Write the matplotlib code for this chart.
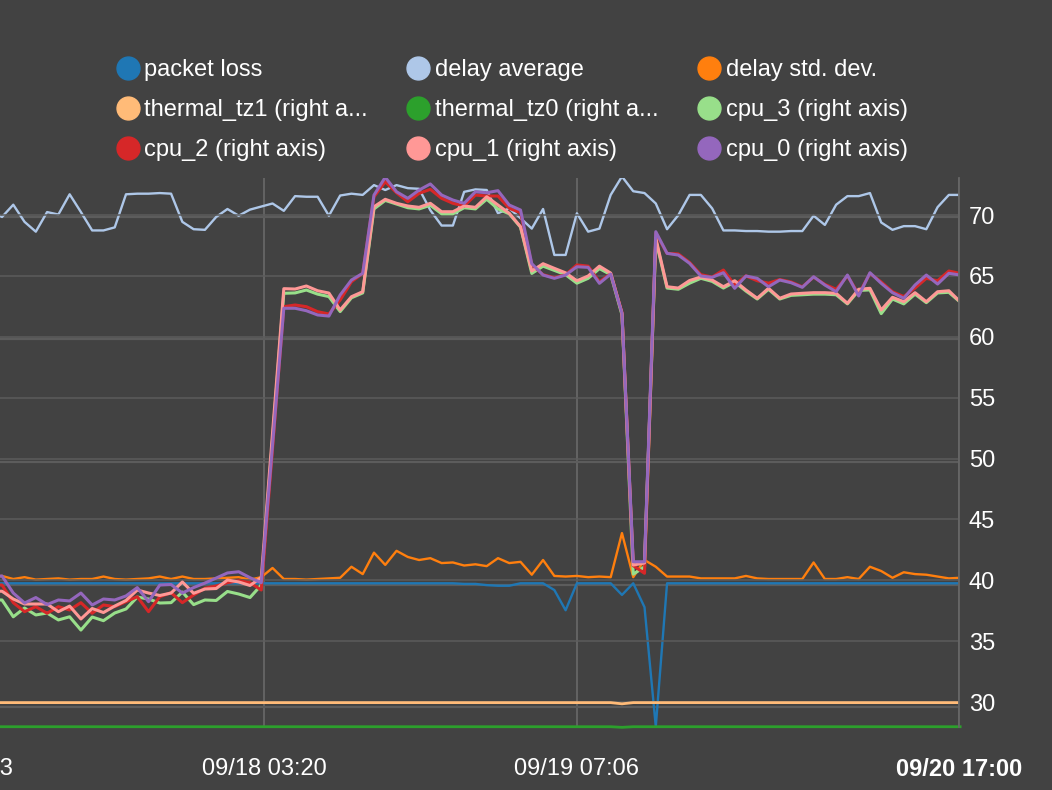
import matplotlib
matplotlib.use('Agg')
import matplotlib.pyplot as plt
from matplotlib.lines import Line2D
import pandas as pd

plt.rcParams['font.family'] = ['Liberation Sans', 'DejaVu Sans']

# hourly samples
times = pd.date_range('2019-09-17 03:06', periods=87, freq='h')

# left axis series
packet_loss = [10.1, 10.1, 10.1, 10.1, 10.1, 10.1, 10.1, 10.1, 10.1, 10.1,
               10.1, 10.1, 10.1, 10.1, 10.1, 10.1, 10.1, 10.1, 10.1, 10.1,
               10.1, 10.1, 10.1, 10.1, 10.1, 10.1, 10.1, 10.1, 10.1, 10.1,
               10.1, 10.1, 10.1, 10.1, 10.1, 10.1, 10.1, 10.1, 10.1, 10.1,
               10.1, 10.1, 10.05, 10.05, 9.95, 9.9, 9.9, 10.1, 10.1, 10.1,
               9.55, 7.9, 10.1, 10.1, 10.1, 10.1, 9.15, 10.1, 8.15, -1.6,
               10.1, 10.1, 10.1, 10.1, 10.1, 10.1, 10.1, 10.1, 10.1, 10.1,
               10.1, 10.1, 10.1, 10.1, 10.1, 10.1, 10.1, 10.1, 10.1, 10.1,
               10.1, 10.1, 10.1, 10.1, 10.1, 10.1, 10.1]
delay_avg = [40.5, 40.0, 41.0, 39.6, 38.8, 40.4, 40.2, 41.85, 40.4, 38.9,
             38.9, 39.15, 41.85, 41.9, 41.9, 41.95, 41.9, 39.6, 39.0, 38.95,
             40.0, 40.65, 40.1, 40.6, 40.85, 41.1, 40.5, 41.7, 41.65, 41.65,
             40.1, 41.75, 41.9, 41.8, 42.6, 42.2, 42.6, 42.35, 42.3, 40.55,
             39.3, 39.3, 42.05, 42.25, 42.2, 40.3, 40.7, 39.9, 39.05, 40.65,
             36.9, 36.9, 40.3, 38.8, 39.05, 41.8, 43.3, 42.1, 41.95, 41.1,
             39.0, 40.15, 41.8, 41.8, 40.7, 38.9, 38.9, 38.85, 38.85, 38.8,
             38.8, 38.85, 38.85, 40.1, 39.35, 41.0, 41.7, 41.7, 41.95, 39.55,
             38.95, 39.25, 39.25, 39.0, 40.8, 41.8, 41.8]
delay_std = [10.6, 10.7, 10.45, 10.6, 10.4, 10.45, 10.5, 10.4, 10.45, 10.45,
             10.65, 10.45, 10.4, 10.45, 10.5, 10.65, 10.45, 10.65, 10.45, 10.45,
             10.5, 10.55, 10.6, 10.4, 10.6, 11.35, 10.45, 10.45, 10.4, 10.45,
             10.5, 10.55, 11.45, 10.85, 12.6, 11.6, 12.75, 12.25, 12.0, 12.15,
             11.75, 11.8, 11.55, 11.65, 11.5, 12.15, 11.75, 11.85, 10.8, 12.0,
             10.7, 10.65, 10.7, 10.6, 10.65, 10.6, 14.2, 10.6, 12.0, 11.45,
             10.65, 10.65, 10.65, 10.5, 10.5, 10.5, 10.5, 10.7, 10.5, 10.45,
             10.45, 10.45, 10.45, 11.8, 10.45, 10.45, 10.6, 10.45, 11.45, 11.1,
             10.55, 11.0, 10.85, 10.8, 10.65, 10.5, 10.55]

# right axis series
thermal_tz1 = [29.95] * 56 + [29.85] + [29.95] * 30
thermal_tz0 = [27.97] * 56 + [27.92] + [27.97] * 30
cpu_3 = [38.4, 38.38, 37.0, 37.72, 37.15, 37.31, 36.74, 37.0, 35.91, 36.98,
         36.68, 37.31, 37.64, 38.62, 38.46, 38.13, 38.16, 39.03, 38.0, 38.38,
         38.34, 39.08, 38.87, 38.58, 39.61, 51.6, 63.57, 63.6, 63.84, 63.5,
         63.3, 62.07, 63.2, 63.6, 70.5, 71.2, 70.9, 70.6, 70.5, 70.8,
         70.1, 70.1, 70.6, 70.5, 71.3, 70.5, 70.1, 69.0, 65.2, 65.8,
         65.45, 65.1, 64.4, 64.8, 65.6, 65.1, 61.8, 40.5, 41.1, 67.95,
         64.0, 63.9, 64.4, 64.8, 64.55, 64.0, 64.5, 63.75, 63.1, 63.9,
         63.1, 63.4, 63.45, 63.5, 63.5, 63.45, 62.7, 63.8, 63.85, 61.9,
         63.1, 62.7, 63.5, 62.8, 63.6, 63.65, 62.85]
cpu_2 = [39.6, 39.61, 38.16, 37.42, 37.83, 37.29, 37.83, 37.56, 38.16, 37.29,
         37.97, 37.83, 38.24, 38.65, 37.42, 38.65, 38.98, 38.16, 38.79, 39.34,
         39.53, 39.8, 39.96, 39.8, 39.2, 50.8, 62.47, 62.61, 62.47, 62.06,
         61.87, 63.02, 64.52, 65.21, 71.5, 72.73, 71.83, 71.09, 71.78, 72.11,
         71.37, 70.96, 70.74, 71.64, 71.56, 71.56, 70.55, 70.19, 65.9, 65.1,
         64.85, 65.1, 65.9, 65.8, 64.5, 65.2, 62.0, 41.2, 40.57, 68.52,
         66.85, 66.8, 66.1, 65.1, 64.9, 65.48, 64.25, 65.0, 64.6, 64.4,
         64.7, 64.5, 64.1, 64.9, 64.3, 63.9, 65.0, 63.5, 65.2, 64.5,
         63.7, 63.3, 64.0, 64.8, 64.6, 65.4, 65.2]
cpu_1 = [39.1, 39.1, 38.46, 38.05, 38.05, 38.05, 37.42, 37.88, 36.82, 37.68,
         37.35, 37.88, 38.34, 39.2, 38.95, 38.75, 38.95, 39.86, 38.93, 39.28,
         39.32, 40.02, 39.86, 39.57, 40.23, 52.1, 63.95, 63.92, 64.17, 63.78,
         63.59, 62.2, 63.29, 63.7, 70.68, 71.29, 70.96, 70.74, 70.63, 70.96,
         70.27, 70.27, 70.74, 70.63, 71.5, 70.82, 70.14, 69.04, 65.4, 66.0,
         65.62, 65.25, 64.6, 64.99, 65.8, 65.23, 61.93, 41.25, 41.42, 68.11,
         64.11, 64.0, 64.62, 64.91, 64.66, 64.11, 64.6, 63.84, 63.16, 63.98,
         63.16, 63.51, 63.57, 63.62, 63.62, 63.57, 62.75, 63.9, 63.98, 62.2,
         63.24, 62.88, 63.62, 62.88, 63.7, 63.78, 62.88]
cpu_0 = [40.3, 40.35, 38.95, 38.13, 38.58, 38.0, 38.38, 38.3, 38.95, 37.97,
         38.46, 38.38, 38.71, 39.4, 38.24, 39.61, 39.65, 38.95, 39.4, 39.77,
         40.18, 40.6, 40.7, 40.21, 39.8, 51.1, 62.34, 62.34, 62.14, 61.79,
         61.7, 63.43, 64.66, 65.21, 71.64, 73.1, 71.91, 71.37, 72.05, 72.55,
         71.64, 71.23, 70.96, 71.91, 71.83, 72.0, 70.82, 70.41, 66.0, 65.07,
         64.8, 65.07, 65.75, 65.7, 64.39, 65.15, 61.93, 41.52, 41.52, 68.63,
         66.85, 66.71, 66.03, 64.99, 64.88, 65.26, 63.98, 64.99, 64.8, 64.11,
         64.66, 64.44, 64.06, 64.93, 64.25, 63.7, 65.07, 63.35, 65.26, 64.39,
         63.62, 63.16, 64.25, 65.07, 64.33, 65.21, 65.07]

left_names = ['packet loss', 'delay average', 'delay std. dev.']
right_names = ['thermal_tz1 (right a...', 'thermal_tz0 (right a...',
               'cpu_3 (right axis)', 'cpu_2 (right axis)',
               'cpu_1 (right axis)', 'cpu_0 (right axis)']
x_ticks = ['2019-09-16 23:34', '2019-09-18 03:20', '2019-09-19 07:06', '2019-09-20 17:00']
x_labels = ['09/16 23:33', '09/18 03:20', '09/19 07:06', '09/20 17:00']

left_colors = ['#1f77b4', '#aec7e8', '#ff7f0e']
right_colors = ['#ffbb78', '#2ca02c', '#98df8a', '#d62728', '#ff9896', '#9467bd']

BG = '#424242'
GRID = '#5c5c5c'
W, H = 1052, 790

fig = plt.figure(figsize=(W / 100, H / 100), dpi=100, facecolor=BG)
# plot area runs off the left edge of the picture (cropped chart)
l_px, r_px, t_px, b_px = -120, 959, 178, 727
ax = fig.add_axes([l_px / W, 1 - b_px / H, (r_px - l_px) / W, (b_px - t_px) / H])
ax.set_facecolor(BG)
ax2 = ax.twinx()

for vals, c in zip([packet_loss, delay_avg, delay_std], left_colors):
    ax.plot(times, vals, color=c, lw=1.7)
for vals, c in zip([thermal_tz1, thermal_tz0, cpu_3, cpu_2, cpu_1, cpu_0], right_colors):
    lw = 2.2 if c not in ('#ffbb78', '#2ca02c') else 2.0
    ax2.plot(times, vals, color=c, lw=lw, clip_on=(c != '#2ca02c'))

# x range: 11.272 px per hour
xmax = pd.Timestamp('2019-09-20 17:00')
xmin = xmax - pd.Timedelta(hours=(r_px - l_px) / 11.272)
ax.set_xlim(xmin, xmax)
ax.set_xticks(pd.to_datetime(x_ticks))
ax.set_xticklabels(x_labels)
ax.get_xticklabels()[-1].set_fontweight('bold')

ax.set_ylim(-1.63, 43.18)
ax.set_yticks([0, 10, 20, 30, 40])
ax2.set_ylim(27.947, 73.04)
ax2.set_yticks([30, 35, 40, 45, 50, 55, 60, 65, 70])

ax.grid(axis='y', color=GRID, lw=1.6)
ax.grid(axis='x', color='#666666', lw=1.3)
ax2.grid(axis='y', color=GRID, lw=1.1)

ax.tick_params(axis='x', length=0, pad=22, labelsize=17, labelcolor='white')
ax.tick_params(axis='y', left=False, labelleft=False)
ax2.tick_params(axis='y', length=0, pad=7, labelsize=17, labelcolor='white')

for a in (ax, ax2):
    for s in a.spines.values():
        s.set_visible(False)
ax2.spines['right'].set_visible(True)
ax2.spines['right'].set_color('#666666')
ax2.spines['right'].set_linewidth(1.3)

# legend, filled row by row
names = left_names + right_names
colors = left_colors + right_colors
order = [0, 3, 6, 1, 4, 7, 2, 5, 8]
handles = [Line2D([], [], marker='o', linestyle='none', markersize=16.5,
                  markerfacecolor=colors[i], markeredgecolor=colors[i]) for i in order]
fig.legend(handles, [names[i] for i in order], ncol=3, loc='upper left',
           bbox_to_anchor=(116 / W, 1 - 59 / H), frameon=False, fontsize=17,
           labelcolor='white', handlelength=1.0, handletextpad=0.2,
           columnspacing=1.64, labelspacing=0.76, borderpad=0, borderaxespad=0)

fig.savefig('out.png', dpi=100, facecolor=BG)
